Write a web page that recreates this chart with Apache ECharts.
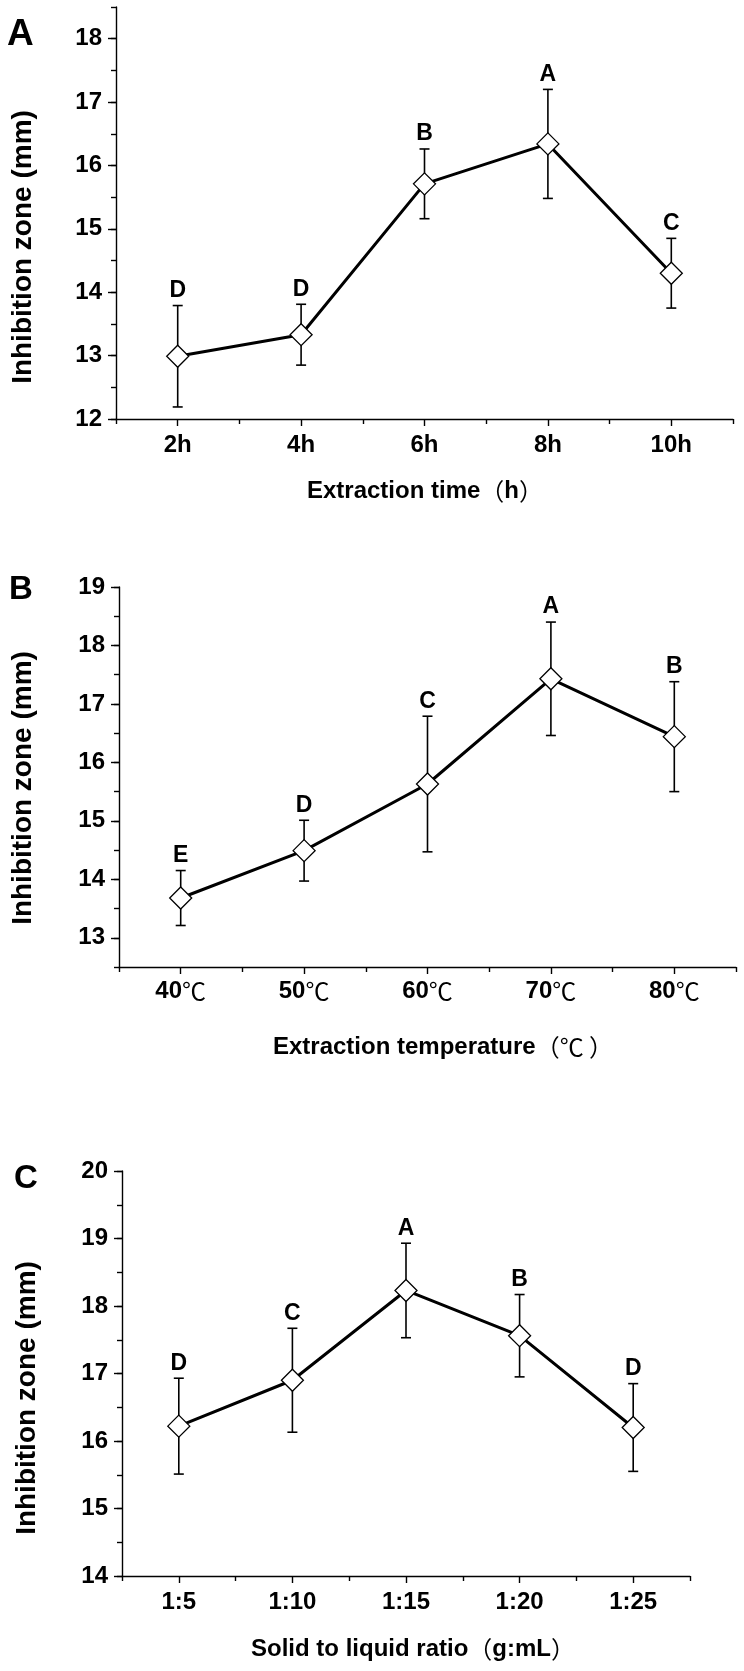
<!DOCTYPE html>
<html>
<head>
<meta charset="utf-8">
<script src="https://cdn.jsdelivr.net/npm/echarts@6/dist/echarts.min.js"></script>
<style>
html,body{margin:0;padding:0;background:#fff;}
#chart{width:744px;height:1671px;}
</style>
</head>
<body>
<div id="chart"></div>
<script>
// ---------- data ----------
const catsA = ['2h', '4h', '6h', '8h', '10h'];
const meanA = [12.99, 13.33, 15.71, 16.34, 14.30];
const sdA = [0.80, 0.48, 0.55, 0.86, 0.55];
const letA = ['D', 'D', 'B', 'A', 'C'];
const yTicksA = [12, 13, 14, 15, 16, 17, 18];

const catsB = ['40℃', '50℃', '60℃', '70℃', '80℃'];
const meanB = [13.68, 14.49, 15.63, 17.43, 16.44];
const sdB = [0.47, 0.52, 1.16, 0.97, 0.94];
const letB = ['E', 'D', 'C', 'A', 'B'];
const yTicksB = [13, 14, 15, 16, 17, 18, 19];

const catsC = ['1:5', '1:10', '1:15', '1:20', '1:25'];
const meanC = [16.22, 16.90, 18.23, 17.56, 16.20];
const sdC = [0.71, 0.77, 0.70, 0.61, 0.65];
const letC = ['D', 'C', 'A', 'B', 'D'];
const yTicksC = [14, 15, 16, 17, 18, 19, 20];

const yTitle = 'Inhibition zone (mm)';
// ---------- layout ----------
const FONT = '"Liberation Sans", Arial, sans-serif';
const CJK = '"Noto Sans CJK SC", sans-serif';

const panels = [
  {cats: catsA, mean: meanA, sd: sdA, letters: letA, ticks: yTicksA, min: 12, max: 18.5,
   grid: {left: 116, top: 7, width: 617, height: 412}, xMargin: 14},
  {cats: catsB, mean: meanB, sd: sdB, letters: letB, ticks: yTicksB, min: 12.5, max: 19,
   grid: {left: 119, top: 587, width: 617, height: 380}, xMargin: 12},
  {cats: catsC, mean: meanC, sd: sdC, letters: letC, ticks: yTicksC, min: 14, max: 20,
   grid: {left: 122, top: 1171, width: 568, height: 405}, xMargin: 14}
];

const axisLineStyle = {color: '#000', width: 1.4};
const grid = [], xAxis = [], yAxis = [], series = [];

panels.forEach((p, k) => {
  grid.push(Object.assign({containLabel: false}, p.grid));
  // x axis: boundary ticks + line
  xAxis.push({
    type: 'category', gridIndex: k, position: 'bottom', offset: 0, data: p.cats, boundaryGap: true,
    axisLine: {show: true, lineStyle: axisLineStyle},
    axisTick: {show: true, alignWithLabel: false, length: 5, lineStyle: axisLineStyle},
    axisLabel: {show: false}, splitLine: {show: false}
  });
  // x axis: centred ticks + labels
  xAxis.push({
    type: 'category', gridIndex: k, position: 'bottom', offset: 0, data: p.cats, boundaryGap: true,
    axisLine: {show: false},
    axisTick: {show: true, alignWithLabel: true, length: 7, lineStyle: axisLineStyle},
    axisLabel: {
      show: true, margin: p.xMargin, interval: 0,
      formatter: function (v) {
        if (v.indexOf('℃') >= 0) return '{n|' + v.replace('℃', '') + '}{u|℃}';
        return '{n|' + v + '}';
      },
      rich: {
        n: {fontFamily: FONT, fontWeight: 'bold', fontSize: 24, color: '#000'},
        u: {fontFamily: CJK, fontWeight: 'normal', fontSize: 24, color: '#000'}
      }
    },
    splitLine: {show: false}
  });
  // y axis: minor ticks + line
  yAxis.push({
    type: 'value', gridIndex: k, position: 'left', offset: 0, min: p.min, max: p.max, interval: 0.5,
    axisLine: {show: true, lineStyle: axisLineStyle},
    axisTick: {show: true, length: 5, lineStyle: axisLineStyle},
    axisLabel: {show: false}, splitLine: {show: false}
  });
  // y axis: major ticks + labels
  yAxis.push({
    type: 'value', gridIndex: k, position: 'left', offset: 0, min: p.min, max: p.max, interval: 0.5,
    axisLine: {show: false},
    axisTick: {show: true, length: 8, lineStyle: axisLineStyle, customValues: p.ticks},
    axisLabel: {show: true, margin: 14, customValues: p.ticks,
      fontFamily: FONT, fontWeight: 'bold', fontSize: 24, color: '#000',
      formatter: v => (Math.abs(v - Math.round(v)) < 1e-6 ? String(Math.round(v)) : '')},
    splitLine: {show: false}
  });

  const letters = p.letters;
  series.push({
    type: 'custom', xAxisIndex: 2 * k, yAxisIndex: 2 * k, z: 2,
    data: p.cats.map((c, i) => [i, p.mean[i], p.sd[i]]),
    encode: {x: 0, y: 1},
    renderItem: function (params, api) {
      const i = api.value(0), m = api.value(1), s = api.value(2);
      const t = api.coord([i, m + s]);
      const b = api.coord([i, m - s]);
      const st = {stroke: '#000', lineWidth: 1.6};
      return {
        type: 'group',
        children: [
          {type: 'line', shape: {x1: t[0], y1: t[1], x2: b[0], y2: b[1]}, style: st},
          {type: 'line', shape: {x1: t[0] - 5, y1: t[1], x2: t[0] + 5, y2: t[1]}, style: st},
          {type: 'line', shape: {x1: b[0] - 5, y1: b[1], x2: b[0] + 5, y2: b[1]}, style: st},
          {type: 'text', style: {text: letters[params.dataIndex], x: t[0], y: t[1] - 15,
            textAlign: 'center', textVerticalAlign: 'middle',
            font: 'bold 23px ' + FONT, fill: '#000'}}
        ]
      };
    }
  });
  series.push({
    type: 'line', xAxisIndex: 2 * k, yAxisIndex: 2 * k, z: 5,
    data: p.mean,
    symbol: 'diamond', symbolSize: 22, showSymbol: true,
    lineStyle: {color: '#000', width: 3},
    itemStyle: {color: '#fff', borderColor: '#000', borderWidth: 1.3}
  });
});

function yTitleText(x, y) {
  return {type: 'text', x: x, y: y, rotation: Math.PI / 2,
    style: {text: yTitle, textAlign: 'center', textVerticalAlign: 'middle',
      font: 'bold 28px ' + FONT, fill: '#000'}};
}
const richTitle = {
  b: {fontFamily: FONT, fontWeight: 'bold', fontSize: 24, color: '#000'},
  p: {fontFamily: CJK, fontWeight: 'normal', fontSize: 24, color: '#000'}
};
function xTitleText(x, y, text) {
  return {type: 'text', x: x, y: y,
    style: {text: text, rich: richTitle, textAlign: 'center', textVerticalAlign: 'middle'}};
}
function panelLetter(x, y, t, size) {
  return {type: 'text', x: x, y: y,
    style: {text: t, textAlign: 'left', textVerticalAlign: 'middle',
      font: 'bold ' + size + 'px ' + FONT, fill: '#000'}};
}

const option = {
  animation: false,
  backgroundColor: '#fff',
  grid: grid, xAxis: xAxis, yAxis: yAxis, series: series,
  graphic: [
    panelLetter(7, 35, 'A', 37),
    panelLetter(9, 590, 'B', 33),
    panelLetter(14, 1179, 'C', 33),
    yTitleText(23, 247),
    yTitleText(23, 788),
    yTitleText(27, 1398),
    xTitleText(425, 491, '{b|Extraction time}{p|（}{b|h}{p|）}'),
    xTitleText(443, 1047, '{b|Extraction temperature}{p|（℃ ）}'),
    xTitleText(413, 1649, '{b|Solid to liquid ratio}{p|（}{b|g:mL}{p|）}')
  ]
};

const chart = echarts.init(document.getElementById('chart'), null, {renderer: 'canvas'});
chart.setOption(option);
</script>
</body>
</html>
